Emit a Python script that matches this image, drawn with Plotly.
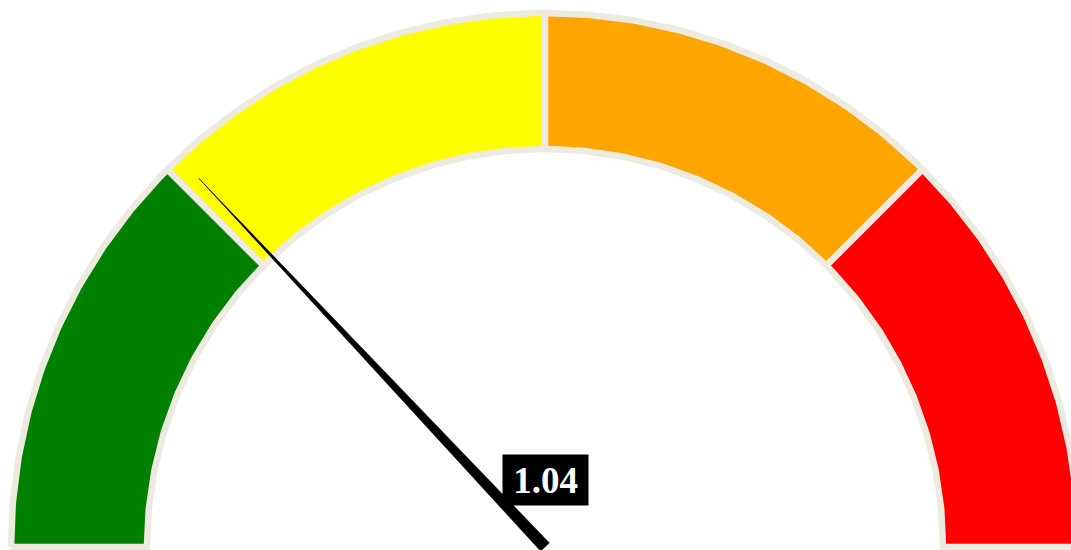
import numpy as np
import plotly.graph_objects as go

# ---- data ----
gauge_min = 0
gauge_max = 4
band_edges = [0, 1, 2, 3, 4]
band_colors = ["#008000", "#FFFF00", "#FFA500", "#FF0000"]
needle_value = 1.04
value_label = "1.04"

# ---- geometry / style ----
W, H = 1071, 550
PX = 534.0                    # pixels per data unit (outer radius)
CX, CY = 545.0, 547.0         # centre of the dial in pixels
R_OUT = 1.0
R_IN = 398.0 / PX
BORDER = "#EDEAE0"


def angle(v):
    return np.pi * (1 - (v - gauge_min) / (gauge_max - gauge_min))


fig = go.Figure()

for lo, hi, col in zip(band_edges[:-1], band_edges[1:], band_colors):
    t = np.linspace(angle(lo), angle(hi), 120)
    xs = np.concatenate([R_OUT * np.cos(t), R_IN * np.cos(t[::-1])])
    ys = np.concatenate([R_OUT * np.sin(t), R_IN * np.sin(t[::-1])])
    xs = np.append(xs, xs[0])
    ys = np.append(ys, ys[0])
    fig.add_trace(go.Scatter(x=xs, y=ys, mode="lines", fill="toself",
                             fillcolor=col, line=dict(color=BORDER, width=6.5),
                             hoverinfo="skip", showlegend=False))

# needle
a = angle(needle_value)
tip_r = 506.0 / PX
half_w = 6.0 / PX
nx = [tip_r * np.cos(a), half_w * np.cos(a - np.pi / 2), half_w * np.cos(a + np.pi / 2), tip_r * np.cos(a)]
ny = [tip_r * np.sin(a), half_w * np.sin(a - np.pi / 2), half_w * np.sin(a + np.pi / 2), tip_r * np.sin(a)]
fig.add_trace(go.Scatter(x=nx, y=ny, mode="lines", fill="toself", fillcolor="black",
                         line=dict(color="black", width=0.5), hoverinfo="skip", showlegend=False))

fig.add_annotation(x=CX / W, y=1 - 480.0 / H, xref="paper", yref="paper",
                   text="<b>%s</b>" % value_label, showarrow=False,
                   font=dict(family="Liberation Serif", size=37, color="white"),
                   bgcolor="black", borderpad=2, width=81, height=46,
                   xanchor="center", yanchor="middle", align="center", valign="middle")

fig.update_xaxes(range=[-CX / PX, (W - CX) / PX], visible=False, fixedrange=True)
fig.update_yaxes(range=[-(H - CY) / PX, CY / PX], visible=False, fixedrange=True)
fig.update_layout(width=W, height=H, margin=dict(l=0, r=0, t=0, b=0),
                  paper_bgcolor="white", plot_bgcolor="white")

fig.write_html("out.html", config={"displayModeBar": False},
               post_script="document.body.style.margin='0px';")
